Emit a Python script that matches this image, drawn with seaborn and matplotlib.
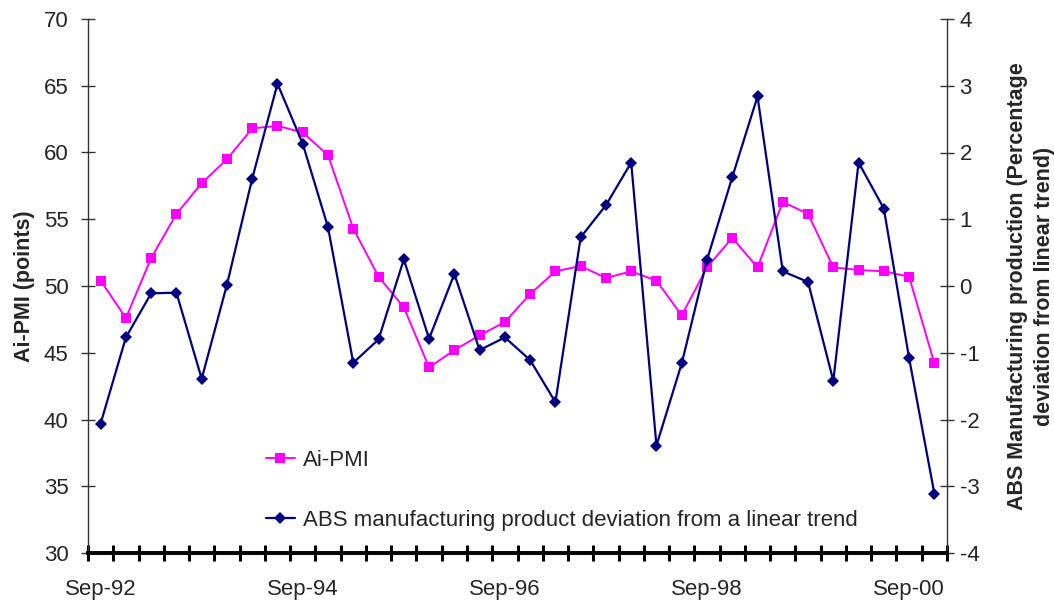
import numpy as np
import pandas as pd
import matplotlib
matplotlib.use("Agg")
import matplotlib.pyplot as plt
import seaborn as sns

# Quarterly observations, Sep-92 .. Dec-00
quarters = pd.period_range("1992Q3", "2000Q4", freq="Q")
ai_pmi = [50.4, 47.6, 52.1, 55.4, 57.7, 59.5, 61.8, 62.0, 61.5, 59.8,
          54.3, 50.7, 48.4, 43.9, 45.2, 46.3, 47.3, 49.4, 51.1, 51.5,
          50.6, 51.1, 50.4, 47.8, 51.4, 53.6, 51.4, 56.3, 55.4, 51.4,
          51.2, 51.1, 50.7, 44.2]
abs_dev = [-2.06, -0.77, -0.11, -0.10, -1.39, 0.02, 1.61, 3.03, 2.13, 0.88,
           -1.15, -0.80, 0.40, -0.79, 0.18, -0.96, -0.77, -1.11, -1.74, 0.73,
           1.21, 1.85, -2.39, -1.16, 0.39, 1.63, 2.84, 0.22, 0.06, -1.42,
           1.85, 1.16, -1.08, -3.11]
tick_labels = ["Sep-92", "Sep-94", "Sep-96", "Sep-98", "Sep-00"]
label_every = 8

df = pd.DataFrame({"idx": np.arange(len(quarters)),
                   "pmi": ai_pmi, "dev": abs_dev})

sns.set_style("ticks")
plt.rcParams["font.family"] = ["Liberation Sans", "DejaVu Sans"]
plt.rcParams["font.size"] = 16
plt.rcParams["axes.unicode_minus"] = False

PINK = "#FF00FF"
NAVY = "#000080"
AXC = "#000000"
FS = 16
LFS = 15.5

fig = plt.figure(figsize=(10.54, 6.03), dpi=100)
ax = fig.add_axes([88 / 1054, 50 / 603, (947 - 88) / 1054, (553 - 19) / 603])
ax2 = ax.twinx()

sns.lineplot(data=df, x="idx", y="pmi", ax=ax, color=PINK, marker="s",
             markersize=7, mec=PINK, mfc=PINK, mew=0, linewidth=1.4,
             label="Ai-PMI", legend=False)
sns.lineplot(data=df, x="idx", y="dev", ax=ax2, color=NAVY, marker="D",
             markersize=6, mec=NAVY, mfc=NAVY, mew=0, linewidth=1.6,
             label="ABS manufacturing product deviation from a linear trend",
             legend=False)

n = len(quarters)
ax.set_xlim(-0.5, n - 0.5)
ax.set_ylim(30, 70)
ax2.set_ylim(-4, 4)
ax.set_yticks(np.arange(30, 71, 5))
ax2.set_yticks(np.arange(-4, 5, 1))

# category boundaries carry the tick marks, labels sit on the category centres
ax.set_xticks(np.arange(-0.5, n, 1.0))
ax.set_xticklabels([])
ax.set_xticks(np.arange(0, n, label_every), minor=True)
ax.set_xticklabels(tick_labels, minor=True)
ax.tick_params(axis="x", which="major", direction="inout", length=11,
               width=2.2, color=AXC)
ax.tick_params(axis="x", which="minor", length=0, pad=18.5, labelsize=FS)
ax.tick_params(axis="y", direction="inout", length=10, width=1.0,
               color="#333333", labelsize=FS, pad=9)
ax2.tick_params(axis="y", direction="inout", length=10, width=1.0,
                color="#333333", labelsize=FS, pad=4)

for a in (ax, ax2):
    a.spines["top"].set_visible(False)
    a.spines["left"].set_color("#333333")
    a.spines["right"].set_color("#333333")
    a.spines["left"].set_linewidth(1.0)
    a.spines["right"].set_linewidth(1.0)
    a.spines["bottom"].set_color(AXC)
    a.spines["bottom"].set_linewidth(2.6)
    a.set_xlabel("")
ax2.spines["left"].set_visible(False)
ax.spines["right"].set_visible(False)

ax.set_ylabel("Ai-PMI (points)", fontweight="bold", fontsize=LFS, labelpad=6)
ax2.set_ylabel("ABS Manufacturing production (Percentage\n"
               "deviation from linear trend)", fontweight="bold",
               fontsize=LFS, rotation=90, labelpad=20, linespacing=1.35)

h1, l1 = ax.get_legend_handles_labels()
h2, l2 = ax2.get_legend_handles_labels()
fig.legend(h1 + h2, l1 + l2, loc="upper left",
           bbox_to_anchor=(266 / 1054, 1 - 450 / 603), frameon=False,
           fontsize=FS, handlelength=1.3, handletextpad=0.35,
           labelspacing=1.75, borderpad=0, borderaxespad=0)

fig.savefig("out.png", dpi=100, facecolor="white")
